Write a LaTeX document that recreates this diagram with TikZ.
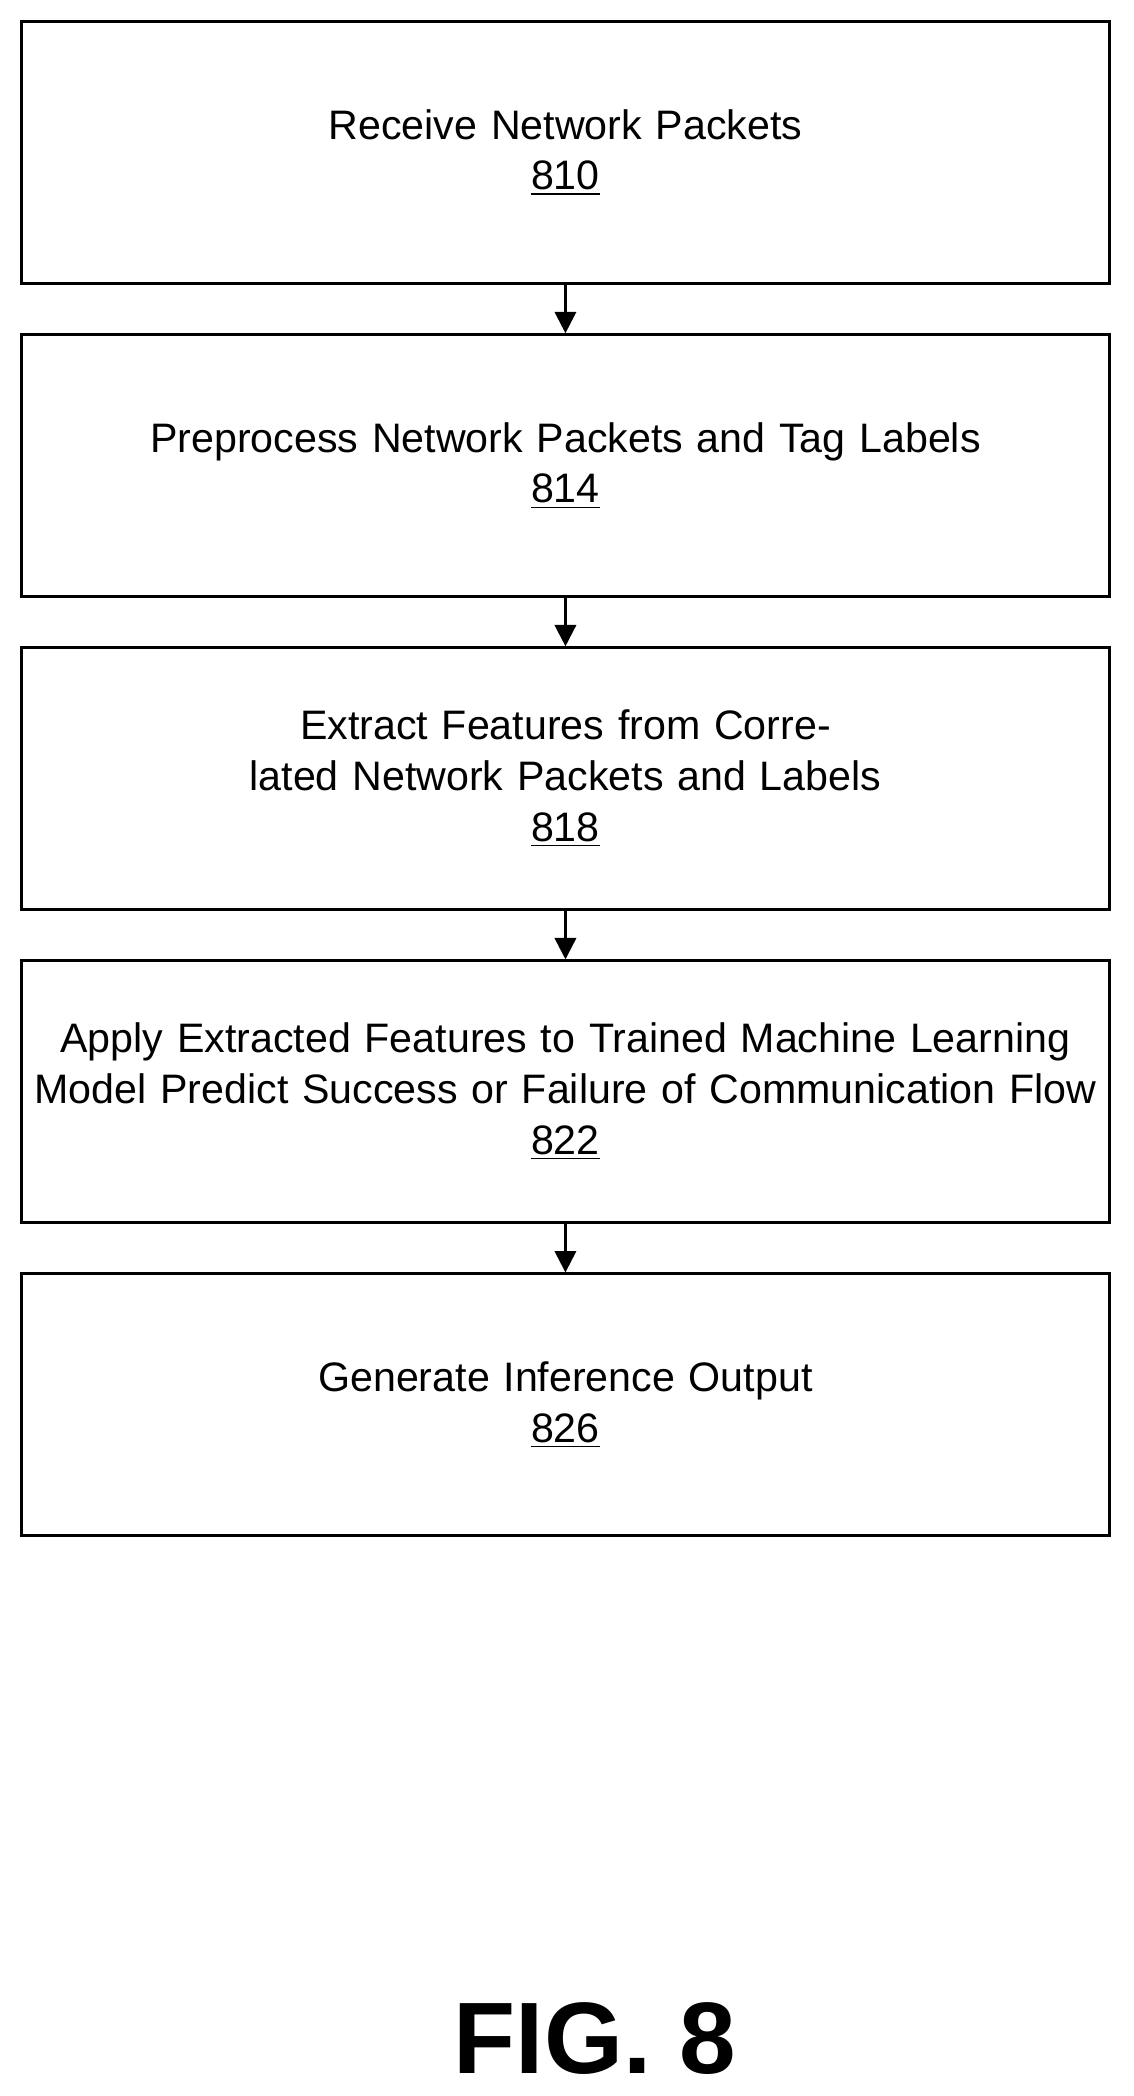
\documentclass[tikz,border=0pt]{standalone}
\usepackage{fontspec}
\setmainfont{Liberation Sans}
\usetikzlibrary{positioning, arrows.meta}

\begin{document}
\begin{tikzpicture}[x=0.5pt, y=-0.5pt, node distance=18.2pt]
    % Define styles
    \tikzset{
        every node/.style={font=\fontsize{15.4}{19}\selectfont},
        stepbox/.style={rectangle, draw, line width=0.9pt, text width=399pt, align=center, minimum width=407pt, minimum height=98pt, inner sep=2pt},
        arrow/.style={-{Triangle[length=8pt, width=8pt]}, line width=0.9pt}
    }
    \useasboundingbox (0,0) rectangle (848,1568);

    % Flow steps
    \node (S810) [stepbox] at (423,114) {Receive Network Packets\\\underline{810}};
    \node (S814) [stepbox, below=of S810] {Preprocess Network Packets and Tag Labels\\\underline{814}};
    \node (S818) [stepbox, below=of S814] {Extract Features from Correlated Network Packets and Labels\\\underline{818}};
    \node (S822) [stepbox, below=of S818] {Apply Extracted Features to Trained Machine Learning Model Predict Success or Failure of Communication Flow\\\underline{822}};
    \node (S826) [stepbox, below=of S822] {Generate Inference Output\\\underline{826}};

    % Arrows between steps
    \draw [arrow] (S810) -- (S814);
    \draw [arrow] (S814) -- (S818);
    \draw [arrow] (S818) -- (S822);
    \draw [arrow] (S822) -- (S826);

    % Figure label
    \node (fig) at (445,1525) {\fontsize{38}{40}\selectfont\bfseries FIG. 8};
\end{tikzpicture}
\end{document}
